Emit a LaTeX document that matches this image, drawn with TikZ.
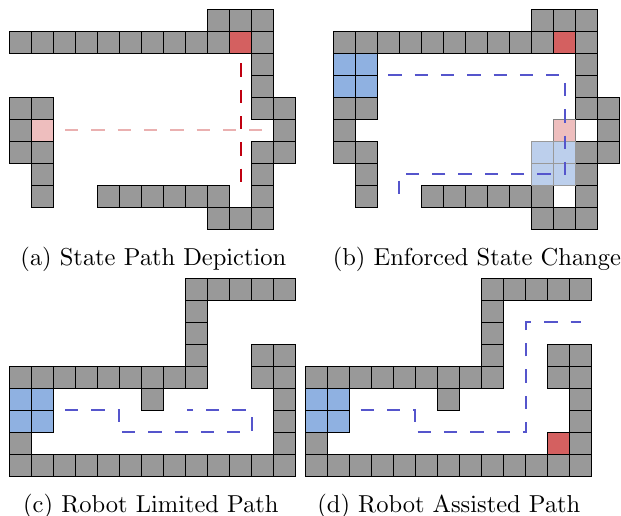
\documentclass[tikz,border=0pt]{standalone}
\definecolor{wallgray}{HTML}{999999}
\definecolor{goalred}{HTML}{D46060}
\definecolor{softpink}{HTML}{EEBEBE}
\definecolor{robotblue}{HTML}{8FB1E1}
\definecolor{assistfill}{HTML}{BCCFEC}
\definecolor{assistblue}{HTML}{5555CC}
\definecolor{pathred}{HTML}{C00010}
\definecolor{pathpink}{HTML}{EAB0B0}
\font\capfont=cmr10 at 24.5pt
\tikzset{
  cellbase/.style={draw=black,line width=1pt},
  wall/.style={cellbase,fill=wallgray},
  goalcell/.style={cellbase,fill=goalred},
  startcell/.style={cellbase,fill=softpink},
  robotcell/.style={cellbase,fill=robotblue},
  ghostcell/.style={draw=black!50,line width=1pt,fill=softpink},
  assistcell/.style={draw=black!40,line width=1pt,fill=assistfill},
  route/.style={line width=2pt,dash pattern=on 13.3pt off 13pt},
  caption/.style={font=\capfont,anchor=center,inner sep=0pt},
}
% #1 style, #2 origin x, #3 origin y, #4 list col/row
\newcommand{\cells}[4]{\foreach \cc/\rr in {#4}{\draw[#1] ({#2+22*\cc},{#3+22*\rr}) rectangle ++(22,22);}}
\newcommand{\rowcells}[5]{\foreach \cc in {#5}{\draw[#1] ({#2+22*\cc},{#3+22*#4}) rectangle ++(22,22);}}
\begin{document}
\begin{tikzpicture}[x=1pt,y=-1pt]
\useasboundingbox (0,0) rectangle (621,516);
% ---- panel a
\def\ox{9.3}\def\oy{9.3}
\rowcells{wall}{\ox}{\oy}{0}{9,10,11}
\rowcells{wall}{\ox}{\oy}{1}{0,...,9,11}
\rowcells{goalcell}{\ox}{\oy}{1}{10}
\cells{wall}{\ox}{\oy}{11/2,11/3,0/4,1/4,11/4,12/4,0/5,12/5,0/6,1/6,11/6,12/6,1/7,11/7,1/8,11/8}
\rowcells{startcell}{\ox}{\oy}{5}{1}
\rowcells{wall}{\ox}{\oy}{8}{4,...,9}
\rowcells{wall}{\ox}{\oy}{9}{9,10,11}
\draw[route,pathpink] (65,130.3) -- (263,130.3);
\draw[route,pathred] (240.7,63.5) -- (240.7,183.5);
% ---- panel b
\def\ox{333.3}
\rowcells{wall}{\ox}{\oy}{0}{9,10,11}
\rowcells{wall}{\ox}{\oy}{1}{0,...,9,11}
\rowcells{goalcell}{\ox}{\oy}{1}{10}
\cells{robotcell}{\ox}{\oy}{0/2,1/2,0/3,1/3}
\cells{wall}{\ox}{\oy}{11/2,11/3,0/4,1/4,11/4,12/4,0/5,12/5,0/6,1/6,11/6,12/6,1/7,11/7,1/8,11/8}
\rowcells{wall}{\ox}{\oy}{8}{4,...,9}
\rowcells{wall}{\ox}{\oy}{9}{9,10,11}
\rowcells{ghostcell}{\ox}{\oy}{5}{10}
\cells{assistcell}{\ox}{\oy}{9/6,10/6,9/7,10/7}
\draw[route,assistblue] (388.3,75.3) -- (564.7,75.3) -- (564.7,174) -- (399.3,174) -- (399.3,196.7);
% ---- panel c
\def\ox{9.3}\def\oy{278.3}
\rowcells{wall}{\ox}{\oy}{0}{8,...,12}
\cells{wall}{\ox}{\oy}{8/1,8/2,8/3,11/3,12/3,11/4,12/4,6/5,12/5,12/6,0/7,12/7}
\rowcells{wall}{\ox}{\oy}{4}{0,...,8}
\cells{robotcell}{\ox}{\oy}{0/5,1/5,0/6,1/6}
\rowcells{wall}{\ox}{\oy}{8}{0,...,12}
\draw[route,assistblue] (65,410.3) -- (119.3,410.3) -- (119.3,432.3) -- (251.7,432.3) -- (251.7,410.3) -- (186.7,410.3);
% ---- panel d
\def\ox{305.7}
\rowcells{wall}{\ox}{\oy}{0}{8,...,12}
\cells{wall}{\ox}{\oy}{8/1,8/2,8/3,11/3,12/3,11/4,12/4,6/5,12/5,12/6,0/7,12/7}
\rowcells{wall}{\ox}{\oy}{4}{0,...,8}
\cells{robotcell}{\ox}{\oy}{0/5,1/5,0/6,1/6}
\rowcells{goalcell}{\ox}{\oy}{7}{11}
\rowcells{wall}{\ox}{\oy}{8}{0,...,12}
\draw[route,assistblue] (360.7,410.3) -- (415.3,410.3) -- (415.3,432.3) -- (525.7,432.3) -- (525.7,322.3) -- (581,322.3);
% ---- captions
\node[caption] (capa) at (153.5,259.5) {(a) State Path Depiction};
\node[caption] (capb) at (477,259.5) {(b) Enforced State Change};
\node[caption] (capc) at (151,506) {(c) Robot Limited Path};
\node[caption] (capd) at (449,506) {(d) Robot Assisted Path};
\end{tikzpicture}
\end{document}
